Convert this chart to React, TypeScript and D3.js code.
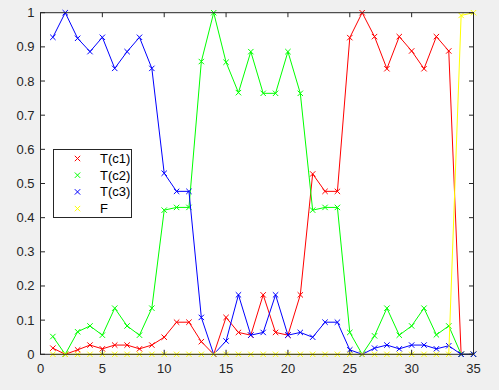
import React from "react";
import * as d3 from "d3";

const xs = d3.range(1, 36);
const tc1 = [0.018, 0, 0.013, 0.027, 0.016, 0.027, 0.027, 0.016, 0.027, 0.05, 0.094, 0.094, 0.037, 0, 0.108, 0.064, 0.056, 0.174, 0.064, 0.056, 0.174, 0.528, 0.477, 0.477, 0.927, 1.0, 0.93, 0.836, 0.93, 0.888, 0.836, 0.93, 0.888, 0, 0];
const tc2 = [0.052, 0, 0.066, 0.083, 0.056, 0.135, 0.083, 0.056, 0.135, 0.422, 0.43, 0.43, 0.857, 1.0, 0.855, 0.766, 0.886, 0.764, 0.764, 0.886, 0.764, 0.422, 0.43, 0.43, 0.064, 0, 0.054, 0.135, 0.056, 0.083, 0.135, 0.057, 0.083, 0, 0];
const tc3 = [0.928, 1.0, 0.925, 0.886, 0.928, 0.837, 0.886, 0.928, 0.837, 0.53, 0.477, 0.477, 0.108, 0, 0.039, 0.174, 0.056, 0.064, 0.174, 0.056, 0.064, 0.05, 0.094, 0.094, 0.013, 0, 0.018, 0.027, 0.016, 0.027, 0.027, 0.016, 0.025, 0, 0];
const fv = [0, 0, 0, 0, 0, 0, 0, 0, 0, 0, 0, 0, 0, 0, 0, 0, 0, 0, 0, 0, 0, 0, 0, 0, 0, 0, 0, 0, 0, 0, 0, 0, 0, 0.992, 1.0];

const seriesNames = ["T(c1)", "T(c2)", "T(c3)", "F"];
const seriesColors = ["#ff0000", "#00ff00", "#0000ff", "#ffff00"];
const seriesData = [tc1, tc2, tc3, fv];
const xTicks = [0, 5, 10, 15, 20, 25, 30, 35];
const yTicks = [0, 0.1, 0.2, 0.3, 0.4, 0.5, 0.6, 0.7, 0.8, 0.9, 1];

const W = 499, H = 390;
const L = 40.5, R = 473.5, T = 12.7, B = 354.3;
const AX = "#262626";
const FONT = "'Liberation Sans', Arial, sans-serif";

function XMark({ x, y, c, s = 2.7 }: { x: number; y: number; c: string; s?: number }) {
  return (
    <path d={`M${x - s},${y - s}L${x + s},${y + s}M${x - s},${y + s}L${x + s},${y - s}`} stroke={c} strokeWidth={1} fill="none" />
  );
}

export default function App() {
  const x = d3.scaleLinear().domain([0, 35]).range([L, R]);
  const y = d3.scaleLinear().domain([0, 1]).range([B, T]);
  const line = d3.line<number>().x((_, i) => x(xs[i])).y((d) => y(d));
  const tl = 4.5;
  return (
    <svg width={W} height={H} style={{ position: "absolute", left: 0, top: 0, background: "#f0f0f0" }}>
      <rect x={0} y={0} width={W} height={H} fill="#f0f0f0" />
      <rect x={L} y={T} width={R - L} height={B - T} fill="#ffffff" />
      {seriesData.map((d, si) => (
        <g key={si}>
          <path d={line(d) || ""} fill="none" stroke={seriesColors[si]} strokeWidth={1} />
          {d.map((v, i) => (
            <XMark key={i} x={x(xs[i])} y={y(v)} c={seriesColors[si]} />
          ))}
        </g>
      ))}
      {/* axes box */}
      <rect x={L} y={T} width={R - L} height={B - T} fill="none" stroke={AX} strokeWidth={1} />
      {xTicks.map((t) => (
        <g key={"x" + t}>
          <line x1={x(t)} x2={x(t)} y1={B} y2={B - tl} stroke={AX} />
          <line x1={x(t)} x2={x(t)} y1={T} y2={T + tl} stroke={AX} />
          <text x={x(t)} y={B + 19} textAnchor="middle" fontFamily={FONT} fontSize={13} fill={AX}>{t}</text>
        </g>
      ))}
      {yTicks.map((t) => (
        <g key={"y" + t}>
          <line x1={L} x2={L + tl} y1={y(t)} y2={y(t)} stroke={AX} />
          <line x1={R} x2={R - tl} y1={y(t)} y2={y(t)} stroke={AX} />
          <text x={L - 6} y={y(t) + 4.5} textAnchor="end" fontFamily={FONT} fontSize={13} fill={AX}>{t === 0 || t === 1 ? String(t) : t.toFixed(1)}</text>
        </g>
      ))}
      {/* legend */}
      <g>
        <rect x={53.5} y={149.5} width={78} height={68} fill="#ffffff" stroke={AX} strokeWidth={1} />
        {seriesNames.map((n, i) => (
          <g key={n}>
            <XMark x={77.5} y={158.5 + i * 16.7} c={seriesColors[i]} />
            <text x={100} y={158.5 + i * 16.7 + 4.5} fontFamily={FONT} fontSize={13} fill="#000">{n}</text>
          </g>
        ))}
      </g>
    </svg>
  );
}
